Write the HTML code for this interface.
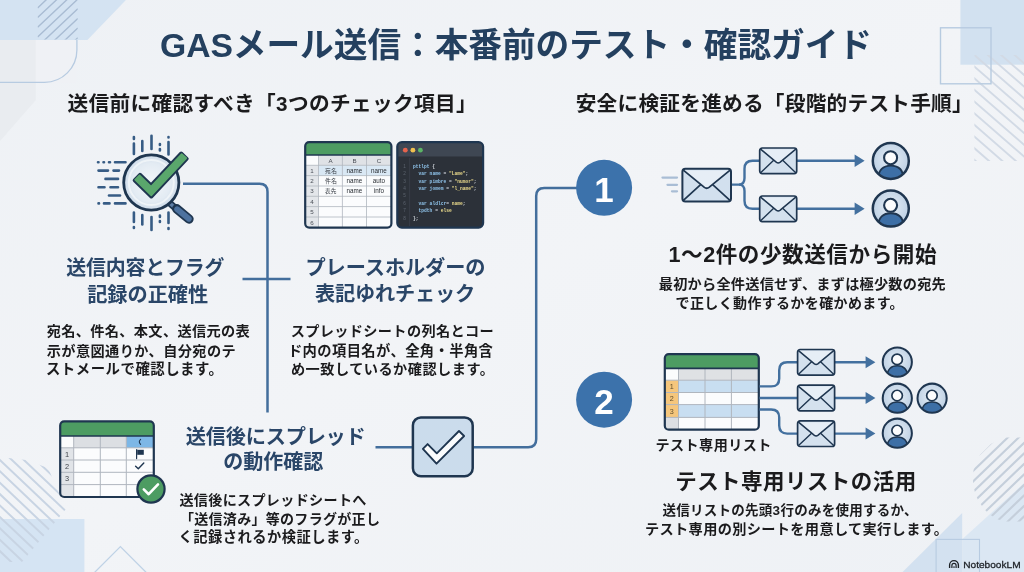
<!DOCTYPE html>
<html lang="ja">
<head>
<meta charset="utf-8">
<title>GASメール送信：本番前のテスト・確認ガイド</title>
<style>
html,body{margin:0;padding:0;}
body{width:1024px;height:572px;overflow:hidden;position:relative;background:#f0f2f6;font-family:"Liberation Sans","Noto Sans CJK JP",sans-serif;}
svg{position:absolute;left:0;top:0;display:block;filter:blur(0.5px);}
svg text{font-family:"Liberation Sans","Noto Sans CJK JP",sans-serif;}
svg text.mono{font-family:"Liberation Mono",monospace;font-weight:bold;white-space:pre;}
svg .b{font-weight:bold;}
</style>
</head>
<body>
<svg width="1024" height="572" viewBox="0 0 1024 572">
<defs>
  <linearGradient id="bgG" x1="0" y1="0" x2="1" y2="1">
    <stop offset="0" stop-color="#eef1f5"/><stop offset="0.5" stop-color="#f2f4f7"/><stop offset="1" stop-color="#eef1f5"/>
  </linearGradient>
  <radialGradient id="lensG" cx="0.5" cy="0.5" r="0.5">
    <stop offset="0" stop-color="#f4f7fa"/><stop offset="0.7" stop-color="#e3ebf3"/><stop offset="1" stop-color="#cfdcea"/>
  </radialGradient>
  <radialGradient id="persG" cx="0.5" cy="0.45" r="0.55">
    <stop offset="0" stop-color="#e6eef6"/><stop offset="1" stop-color="#bccfe3"/>
  </radialGradient>
  <clipPath id="cpTL"><rect x="37.6" y="0" width="40.2" height="39.4"/></clipPath>
  <clipPath id="cpTR"><rect x="974.4" y="55" width="50" height="106"/></clipPath>
  <clipPath id="cpBL"><polygon points="0,457 26,460 48,468 66,509 22,562 0,562"/></clipPath>
  <clipPath id="cpBR"><polygon points="991,444 980,455 973.5,470 973,483 975,493 978,500 982,506 986,511 992,516 998,519.5 1007,521.5 1024,521.5 1024,437.5 1003,437.5"/></clipPath>
  <!-- envelope symbol, 48x33 nominal, origin at top-left -->
  <g id="envL">
    <rect x="0" y="0" width="48.6" height="32.7" rx="3" fill="#d2e0ee" stroke="#1f3650" stroke-width="2"/>
    <path d="M1.5 31 L18.5 15.5 M47 31 L30 15.5" fill="none" stroke="#1f3650" stroke-width="1.7" stroke-linecap="round"/>
    <path d="M1.5 1.8 L22 18.6 Q24.3 20.3 26.6 18.6 L47.1 1.8" fill="#e6eef6" stroke="#1f3650" stroke-width="1.8" stroke-linejoin="round" stroke-linecap="round"/>
  </g>
  <g id="envS">
    <rect x="0" y="0" width="37" height="25.6" rx="2.5" fill="#d4e1ee" stroke="#1f3650" stroke-width="1.7"/>
    <path d="M1.2 24.4 L14 12.3 M35.8 24.4 L23 12.3" fill="none" stroke="#1f3650" stroke-width="1.4" stroke-linecap="round"/>
    <path d="M1.2 1.4 L16.8 14.4 Q18.5 15.7 20.2 14.4 L35.8 1.4" fill="#e6eef6" stroke="#1f3650" stroke-width="1.5" stroke-linejoin="round" stroke-linecap="round"/>
  </g>
  <!-- person icon r=19 centered at 0,0 -->
  <g id="persL">
    <clipPath id="cpP"><circle cx="0" cy="0" r="17.4"/></clipPath>
    <circle cx="0" cy="0" r="18" fill="url(#persG)"/>
    <path d="M-12.8 19 C-12.8 8.4 -7.2 4.6 0 4.6 C7.2 4.6 12.8 8.4 12.8 19 Z" fill="#3d6fa6" stroke="#1f3650" stroke-width="1.9" clip-path="url(#cpP)"/>
    <circle cx="-0.2" cy="-3.3" r="6.5" fill="#fbfcfd" stroke="#1f3650" stroke-width="2.1"/>
    <circle cx="0" cy="0" r="18" fill="none" stroke="#1f3650" stroke-width="2.5"/>
  </g>
</defs>

<!-- background -->
<rect width="1024" height="572" fill="url(#bgG)"/>

<!-- top-left decoration -->
<polygon points="0,39.9 35.8,39.9 35.8,100 0,141" fill="#e9ecf0"/>
<rect x="35.8" y="39.9" width="41" height="42.3" fill="#eff1f5"/>
<polygon points="0,0 125.9,0 87.4,39.9 0,39.9" fill="#d4e3f2"/>
<g clip-path="url(#cpTL)" stroke="#a9bcd3" stroke-width="1.4" fill="none">
  <path d="M37.6 7.9 L77.8 -29.9 M37.6 17.6 L77.8 -20.2 M37.6 27.2 L77.8 -10.5 M37.6 36.9 L77.8 -0.9 M37.6 46.6 L77.8 8.8 M37.6 56.2 L77.8 18.5 M37.6 65.9 L77.8 28.1 M37.6 75.6 L77.8 37.8"/>
</g>
<path d="M76.9 39.9 V50 A32.4 32.4 0 0 1 44.5 82.3 H0" fill="none" stroke="#b7cbe1" stroke-width="1.3"/>

<!-- top-right decoration -->
<rect x="960.4" y="0" width="64" height="64.7" fill="#d2e1f0"/>
<g clip-path="url(#cpTR)" stroke="#d2dae5" stroke-width="1.9" fill="none">
  <path d="M970.0 179.4 L1030.0 231.6 M970.0 167.8 L1030.0 220.0 M970.0 156.1 L1030.0 208.3 M970.0 144.4 L1030.0 196.6 M970.0 132.8 L1030.0 185.0 M970.0 121.1 L1030.0 173.3 M970.0 109.5 L1030.0 161.7 M970.0 97.8 L1030.0 150.0 M970.0 86.1 L1030.0 138.3 M970.0 74.5 L1030.0 126.7 M970.0 62.8 L1030.0 115.0 M970.0 51.2 L1030.0 103.4 M970.0 39.5 L1030.0 91.7 M970.0 27.9 L1030.0 80.1 M970.0 16.2 L1030.0 68.4 M970.0 4.5 L1030.0 56.7"/>
</g>
<rect x="940.5" y="27.8" width="50.5" height="56" fill="none" stroke="#b7cbe0" stroke-width="1.4"/>

<!-- bottom-left decoration -->
<rect x="0" y="519" width="84.4" height="53" fill="#d5e4f3"/>
<g clip-path="url(#cpBL)" stroke="#c8d4e3" stroke-width="2" fill="none">
  <path d="M-5.0 546.5 L90.0 636.7 M-5.0 535.1 L90.0 625.3 M-5.0 523.7 L90.0 613.9 M-5.0 512.3 L90.0 602.5 M-5.0 500.9 L90.0 591.1 M-5.0 489.5 L90.0 579.7 M-5.0 478.1 L90.0 568.3 M-5.0 466.7 L90.0 556.9 M-5.0 455.3 L90.0 545.5 M-5.0 443.9 L90.0 534.1 M-5.0 432.5 L90.0 522.7 M-5.0 421.1 L90.0 511.3 M-5.0 409.7 L90.0 499.9 M-5.0 398.3 L90.0 488.5"/>
</g>
<path d="M94 573 L120.4 546.6 L146.8 573" fill="none" stroke="#bfd2e6" stroke-width="1.3"/>

<!-- bottom-right decoration -->
<polygon points="962.2,539.2 1024,483.3 1024,572 962.2,572" fill="#dbe7f3"/>
<polygon points="962.2,513 962.2,572 902.6,572" fill="#d3e1f0"/>
<g clip-path="url(#cpBR)" stroke="#c5cfdb" stroke-width="2.1" stroke-linecap="round" fill="none">
  <path d="M1030 405.7 L960 472.9 M1030 416.2 L960 483.4 M1030 426.7 L960 493.9 M1030 437.2 L960 504.4 M1030 447.7 L960 514.9 M1030 458.2 L960 525.4 M1030 468.7 L960 535.9 M1030 479.2 L960 546.4 M1030 489.7 L960 556.9 M1030 500.2 L960 567.4 M1030 510.7 L960 577.9 M1030 521.2 L960 588.4"/>
</g>
<rect x="936.1" y="539.4" width="43.4" height="40" fill="none" stroke="#b7cbe1" stroke-width="1.1"/>

<!-- connector lines -->
<g fill="none" stroke="#436e9c" stroke-width="2.5" stroke-linecap="butt">
  <path d="M183 183.8 L259.5 183.8 Q267.5 183.8 267.5 191.8 L267.5 412.5"/>
  <path d="M242.5 279 L290.5 279"/>
  <path d="M375.5 447.2 L412 447.2"/>
  <path d="M473.5 447.2 L528.2 447.2 Q536.2 447.2 536.2 439.2 L536.2 196 Q536.2 188 544.2 188 L578 188"/>
</g>

<!-- magnifier icon -->
<g stroke="#375c85" stroke-width="2.6" stroke-linecap="round" fill="none">
  <!-- top ticks -->
  <path d="M133.9 137 L133.9 139 M133.9 143.5 L133.9 154"/>
  <path d="M142.3 141 L142.3 151"/>
  <path d="M151.5 135.8 L151.5 149"/>
  <path d="M159.9 144 L159.9 145 M159.9 149 L159.9 150.5"/>
  <path d="M168.5 137 L168.5 137.5 M168.5 142 L168.5 154.5"/>
  <!-- bottom ticks -->
  <path d="M133.9 212.5 L133.9 222 M133.9 227 L133.9 228"/>
  <path d="M142.3 215 L142.3 224.5"/>
  <path d="M151.5 217 L151.5 230"/>
  <path d="M159.9 215.5 L159.9 217 M159.9 221 L159.9 222"/>
  <path d="M168.5 212.5 L168.5 223 M168.5 228 L168.5 229"/>
  <!-- left ticks -->
  <path d="M98 162.2 L98.5 162.2 M103.5 162.2 L104 162.2 M109 162.2 L110 162.2 M115 162.2 L125.5 162.2"/>
  <path d="M98.5 170.6 L108 170.6 M113.5 170.6 L119 170.6"/>
  <path d="M105.5 178.9 L118 178.9"/>
  <path d="M98.5 187.3 L104.5 187.3 M110.5 187.3 L118 187.3"/>
  <path d="M109 195.5 L120 195.5"/>
  <path d="M98.5 203.4 L99 203.4 M104 203.4 L109.5 203.4 M115 203.4 L125.5 203.4"/>
</g>
<path d="M169.6 203 L176.4 209" stroke="#1f3650" stroke-width="7" stroke-linecap="butt" fill="none"/>
<path d="M169.6 203 L176.4 209" stroke="#5f7fa6" stroke-width="3.6" stroke-linecap="butt" fill="none"/>
<path d="M176.8 208.8 L189 219" stroke="#1f3650" stroke-width="9.4" stroke-linecap="round" fill="none"/>
<path d="M177.2 209.2 L188.8 218.8" stroke="#4d729f" stroke-width="5.8" stroke-linecap="round" fill="none"/>
<circle cx="151.3" cy="182.5" r="27.6" fill="url(#lensG)" stroke="#1f3650" stroke-width="2.8"/>
<circle cx="151.3" cy="182.5" r="22.5" fill="none" stroke="#f6f9fb" stroke-width="2" opacity="0.7"/>
<path d="M140.0 174.7 L151.1 185.4 L181.2 153.4 L186.8 158.8 L151.3 196.6 L134.6 180.3 Z" fill="#1f3650" stroke="#1f3650" stroke-width="3.8" stroke-linejoin="round"/>
<path d="M139.5 175.3 L151.1 186.6 L181.7 154.0 L186.3 158.2 L151.3 195.4 L135.1 179.7 Z" fill="#5aa76c" stroke="#5aa76c" stroke-width="1.6" stroke-linejoin="round"/>

<!-- spreadsheet icon (top middle) -->
<g>
  <rect x="305.2" y="142.1" width="86.2" height="85.5" rx="4" fill="#fbfcfd"/>
  <rect x="305.2" y="155" width="13.3" height="72.6" fill="#e3e6ea"/>
  <rect x="318.5" y="155" width="72.9" height="10.3" fill="#dfe2e6"/>
  <rect x="305.2" y="155" width="13.3" height="10.3" fill="#fbfcfd"/>
  <rect x="318.5" y="165.3" width="72.9" height="10.3" fill="#d9e8f4"/>
  <path d="M305.2 155 L305.2 146 Q305.2 142.1 309.2 142.1 L387.4 142.1 Q391.4 142.1 391.4 146 L391.4 155 Z" fill="#4d9c62"/>
  <g stroke="#b0b6be" stroke-width="0.8" fill="none">
    <path d="M305.2 165.3 H391.4 M305.2 175.6 H391.4 M305.2 186 H391.4 M305.2 196.3 H391.4 M305.2 206.6 H391.4 M305.2 217 H391.4"/>
    <path d="M318.5 155 V227.6 M342.4 155 V227.6 M366.5 155 V227.6"/>
  </g>
  <path d="M305.2 155 H391.4" stroke="#1f3650" stroke-width="1.6"/>
  <rect x="305.2" y="142.1" width="86.2" height="85.5" rx="4" fill="none" stroke="#1f3650" stroke-width="2.2"/>
  </g>

<!-- code editor icon -->
<g>
  <rect x="397.3" y="142.1" width="85.8" height="85.5" rx="4.5" fill="#2c3139"/>
  <path d="M397.3 156.4 L397.3 146.6 Q397.3 142.1 401.8 142.1 L478.6 142.1 Q483.1 142.1 483.1 146.6 L483.1 156.4 Z" fill="#3f4753"/>
  <path d="M409.6 158 V226" stroke="#3c424c" stroke-width="0.7"/>
  <rect x="397.3" y="142.1" width="85.8" height="85.5" rx="4.5" fill="none" stroke="#1f3650" stroke-width="2.2"/>
  <circle cx="405.3" cy="150.2" r="2.4" fill="#e5634d"/>
  <circle cx="412.9" cy="150.2" r="2.4" fill="#f0c04f"/>
  <circle cx="420.4" cy="150.2" r="2.4" fill="#5cb566"/>
  </g>

<!-- spreadsheet with check badge (bottom-left) -->
<g>
  <rect x="60.2" y="421.4" width="93.6" height="75.6" rx="4" fill="#fbfcfd"/>
  <rect x="60.2" y="436" width="13.5" height="61" fill="#e1e4e8"/>
  <rect x="73.7" y="436" width="52.6" height="11.8" fill="#dcdfe3"/>
  <rect x="60.2" y="436" width="13.5" height="11.8" fill="#fbfcfd"/>
  <rect x="126.3" y="436" width="27.5" height="11.8" fill="#7db7e6"/>
  <path d="M60.2 436 L60.2 425.4 Q60.2 421.4 64.2 421.4 L149.8 421.4 Q153.8 421.4 153.8 425.4 L153.8 436 Z" fill="#4d9c62"/>
  <g stroke="#b0b6be" stroke-width="1" fill="none">
    <path d="M60.2 447.8 H153.8 M60.2 460 H153.8 M60.2 472.3 H153.8 M60.2 484.6 H153.8"/>
    <path d="M73.7 436 V497 M100.3 436 V497 M126.3 436 V497"/>
  </g>
  <path d="M60.2 436 H153.8" stroke="#1f3650" stroke-width="1.6"/>
  <rect x="60.2" y="421.4" width="93.6" height="75.6" rx="4" fill="none" stroke="#1f3650" stroke-width="2.2"/>
    <!-- header mark, flag, check -->
  <path d="M140.6 439.4 Q138 441.8 140.6 444.4" fill="none" stroke="#1f3650" stroke-width="1.1" stroke-linecap="round"/>
  <path d="M136.6 449.6 V458.6" stroke="#1f3650" stroke-width="1.2" stroke-linecap="round"/>
  <path d="M137.2 449.8 H143.8 V454.8 H137.2 Z" fill="#1f3650"/>
  <path d="M135.6 466.2 L138.3 468.8 L143.8 463" fill="none" stroke="#1f3650" stroke-width="1.4" stroke-linecap="round" stroke-linejoin="round"/>
  <!-- badge -->
  <circle cx="151" cy="489" r="13.6" fill="#4d9c62" stroke="#1f3650" stroke-width="2.2"/>
  <path d="M143.8 489.4 L148.7 494.2 L158 484.4" fill="none" stroke="#ffffff" stroke-width="2.6" stroke-linecap="round" stroke-linejoin="round"/>
</g>

<!-- checkbox icon -->
<rect x="412.9" y="417.4" width="59.8" height="58.8" rx="8" fill="#cbdcec" stroke="#1f3650" stroke-width="2.5"/>
<path d="M422.9 448.8 L427.6 444.1 L436.8 453.3 L459 431 L464.1 436 L436.5 463.7 Z" fill="#fbfcfd" stroke="#1f3650" stroke-width="1.9" stroke-linejoin="round"/>

<!-- step circles -->
<circle cx="604.1" cy="187.8" r="28" fill="#3c72ab"/>
<circle cx="604.1" cy="399.7" r="28" fill="#3c72ab"/>

<!-- step 1 graphic -->
<g stroke="#a9bdd5" stroke-width="2.3" stroke-linecap="round" fill="none">
  <path d="M662.5 177.6 H677 M667.5 184.8 H677 M672 191.3 H677"/>
</g>
<g fill="none" stroke="#43709f" stroke-width="2.4">
  <path d="M731 184.6 L739 184.6 Q744.5 184.6 744.5 178 L744.5 168.8 Q744.5 160.8 752.5 160.8 L760 160.8"/>
  <path d="M739 184.6 Q744.5 184.6 744.5 191 L744.5 200.7 Q744.5 208.7 752.5 208.7 L760 208.7"/>
  <path d="M796.8 160.8 H856"/>
  <path d="M796.8 208.7 H856"/>
</g>
<path d="M854.6 154.6 L864.6 160.8 L854.6 167 Z" fill="#43709f"/>
<path d="M854.6 202.5 L864.6 208.7 L854.6 214.9 Z" fill="#43709f"/>
<use href="#envL" x="682.4" y="168.8"/>
<use href="#envS" x="759.7" y="148"/>
<use href="#envS" x="759.7" y="196"/>
<use href="#persL" x="890.8" y="161"/>
<use href="#persL" x="890.8" y="208.6"/>

<!-- step 2 graphic -->
<g>
  <rect x="664.8" y="354.1" width="94" height="75.6" rx="4" fill="#fbfcfd"/>
  <rect x="678.5" y="368.4" width="80.3" height="11.8" fill="#dfe1e4"/>
  <rect x="678.5" y="380.2" width="80.3" height="12.3" fill="#c8def1"/>
  <rect x="678.5" y="404.6" width="80.3" height="12.8" fill="#c8def1"/>
  <rect x="664.8" y="380.2" width="13.7" height="37.2" fill="#f5c67c"/>
  <rect x="664.8" y="417.4" width="13.7" height="12.3" fill="#dcdfe3"/>
  <path d="M664.8 368.4 L664.8 358.1 Q664.8 354.1 668.8 354.1 L754.8 354.1 Q758.8 354.1 758.8 358.1 L758.8 368.4 Z" fill="#4d9c62"/>
  <g stroke="#b0b6be" stroke-width="1" fill="none">
    <path d="M664.8 380.2 H758.8 M664.8 392.5 H758.8 M664.8 404.6 H758.8 M664.8 417.4 H758.8"/>
    <path d="M678.5 368.4 V429.7 M705 368.4 V429.7 M731.4 368.4 V429.7"/>
  </g>
  <path d="M664.8 368.4 H758.8" stroke="#1f3650" stroke-width="1.6"/>
  <rect x="664.8" y="354.1" width="94" height="75.6" rx="4" fill="none" stroke="#1f3650" stroke-width="2.2"/>
  </g>
<g fill="none" stroke="#43709f" stroke-width="2.4">
  <path d="M759.5 386.4 L771.2 386.4 Q779.2 386.4 779.2 378.4 L779.2 370.3 Q779.2 362.3 787.2 362.3 L798 362.3"/>
  <path d="M759.5 398 H798"/>
  <path d="M759.5 409.5 L771.2 409.5 Q779.2 409.5 779.2 417.5 L779.2 425.6 Q779.2 433.6 787.2 433.6 L798 433.6"/>
  <path d="M834.4 362.3 H867 M834.4 398 H867 M834.4 433.6 H867"/>
</g>
<path d="M865.6 356.3 L875.4 362.3 L865.6 368.3 Z M865.6 392 L875.4 398 L865.6 404 Z M865.6 427.6 L875.4 433.6 L865.6 439.6 Z" fill="#43709f"/>
<use href="#envS" x="797.6" y="349.5"/>
<use href="#envS" x="797.6" y="385.2"/>
<use href="#envS" x="797.6" y="420.9"/>
<g transform="translate(897.3 362.1) scale(0.81)"><use href="#persL"/></g>
<g transform="translate(897.3 398.2) scale(0.81)"><use href="#persL"/></g>
<g transform="translate(932.1 398.2) scale(0.81)"><use href="#persL"/></g>
<g transform="translate(897.3 433.2) scale(0.81)"><use href="#persL"/></g>

<!-- numeral 1 -->
<text x="604.1" y="201.5" font-size="35" class="b" fill="#ffffff" text-anchor="middle">1</text>
<!-- watermark (Latin text, Liberation Sans) -->
<g fill="none" stroke="#1d2126" stroke-linecap="butt">
  <path d="M949.6 567.9 V565 A4.4 4.4 0 0 1 958.4 565 V567.9" stroke-width="1.35"/>
  <path d="M951.9 567.9 V565.4 A2.1 2.1 0 0 1 956.1 565.4 V567.9" stroke-width="1.2"/>
  <path d="M954 567.9 V566.2" stroke-width="1.1"/>
</g>
<text transform="translate(963.2 567.7) scale(0.1045 0.1)" font-family="Liberation Sans, sans-serif" font-size="97" fill="#1d2126" stroke="#1d2126" stroke-width="2.8">NotebookLM</text>

<g id="iconlabels">
<g font-size="6.2" fill="#4a4f57">
<text x="328.43" y="162.6">A</text>
<text x="352.43" y="162.6">B</text>
<text x="376.76" y="162.6">C</text>
<text x="310.18" y="172.8">1</text>
<text x="310.18" y="183.1">2</text>
<text x="310.18" y="193.4">3</text>
<text x="310.18" y="203.8">4</text>
<text x="310.18" y="214.1">5</text>
<text x="310.18" y="224.5">6</text>
</g>
<g font-size="6.3" fill="#2a2e34">
<text x="346.62" y="172.6">name</text>
<text x="371.12" y="172.6">name</text>
<text x="346.62" y="182.9">name</text>
<text x="372.87" y="182.9">auto</text>
<text x="346.62" y="193.2">name</text>
<text x="373.92" y="193.2">info</text>
</g>
<g font-size="4.7" fill="#5d646f" font-family="Liberation Mono, monospace">
<text x="403.29" y="167.8">1</text>
<text x="403.29" y="175.2">2</text>
<text x="403.29" y="182.6">3</text>
<text x="403.29" y="190.0">4</text>
<text x="403.29" y="197.3">5</text>
<text x="403.29" y="204.7">6</text>
<text x="403.29" y="212.1">7</text>
<text x="403.29" y="219.5">8</text>
</g>
<g font-size="4.6">
<text class="mono" xml:space="preserve" x="413" y="167.8"><tspan fill="#8fc3ea">pttlpt </tspan><tspan fill="#d8dde3">{</tspan></text>
<text class="mono" xml:space="preserve" x="418.6" y="175.2"><tspan fill="#8fc3ea">var name </tspan><tspan fill="#d8dde3">= </tspan><tspan fill="#e9d98b">"Lame"</tspan><tspan fill="#d8dde3">;</tspan></text>
<text class="mono" xml:space="preserve" x="418.6" y="182.6"><tspan fill="#8fc3ea">var pimbre </tspan><tspan fill="#d8dde3">= </tspan><tspan fill="#e9d98b">"numor"</tspan><tspan fill="#d8dde3">;</tspan></text>
<text class="mono" xml:space="preserve" x="418.6" y="190.0"><tspan fill="#8fc3ea">var jomem </tspan><tspan fill="#d8dde3">= </tspan><tspan fill="#e9d98b">"l_name"</tspan><tspan fill="#d8dde3">;</tspan></text>
<text class="mono" xml:space="preserve" x="418.6" y="204.7"><tspan fill="#8fc3ea">var aldlcr</tspan><tspan fill="#d8dde3">= </tspan><tspan fill="#e9d98b">name</tspan><tspan fill="#d8dde3">;</tspan></text>
<text class="mono" xml:space="preserve" x="418.6" y="212.1"><tspan fill="#8fc3ea">tpdth </tspan><tspan fill="#d8dde3">= </tspan><tspan fill="#e9d98b">else</tspan></text>
<text class="mono" xml:space="preserve" x="413" y="219.5" fill="#d8dde3">};</text>
</g>
<g font-size="7.4" fill="#3f444b">
<text x="64.94" y="456.6">1</text>
<text x="64.94" y="468.8">2</text>
<text x="64.94" y="481.1">3</text>
</g>
<g font-size="7.2" fill="#5e4c2c">
<text x="669.7" y="389.0">1</text>
<text x="669.7" y="401.2">2</text>
<text x="669.7" y="413.6">3</text>
</g>
</g>
<g id="textlayer" class="b">
<text x="160" y="57.2" font-size="33.7" fill="#24405f" textLength="712">GASメール送信：本番前のテスト・確認ガイド</text>
<text x="67.6" y="111" font-size="20.7" fill="#1b1b1d" textLength="409">送信前に確認すべき「3つのチェック項目」</text>
<text x="575.7" y="110.8" font-size="20.7" fill="#1b1b1d" textLength="397">安全に検証を進める「段階的テスト手順」</text>
<text x="66.3" y="274.7" font-size="19.9" fill="#2a4668" textLength="158">送信内容とフラグ</text>
<text x="87.2" y="301.5" font-size="20.2" fill="#2a4668" textLength="121">記録の正確性</text>
<text x="46.7" y="336.4" font-size="14.2" fill="#1b1b1d" textLength="203">宛名、件名、本文、送信元の表</text>
<text x="46.7" y="355.5" font-size="14.2" fill="#1b1b1d" textLength="189">示が意図通りか、自分宛のテ</text>
<text x="45.9" y="373.9" font-size="14.4" fill="#1b1b1d" textLength="177">ストメールで確認します。</text>
<text x="305.5" y="274.8" font-size="20.2" fill="#2a4668" textLength="180">プレースホルダーの</text>
<text x="315.1" y="301.4" font-size="20.2" fill="#2a4668" textLength="160">表記ゆれチェック</text>
<text x="290.7" y="336.4" font-size="14.2" fill="#1b1b1d" textLength="203">スプレッドシートの列名とコー</text>
<text x="287.9" y="355.6" font-size="14.3" fill="#1b1b1d" textLength="205">ド内の項目名が、全角・半角含</text>
<text x="290.9" y="373.8" font-size="14.2" fill="#1b1b1d" textLength="203">め一致しているか確認します。</text>
<text x="185.8" y="443.8" font-size="20.2" fill="#2a4668" textLength="180">送信後にスプレッド</text>
<text x="223.2" y="469.2" font-size="20" fill="#2a4668" textLength="100">の動作確認</text>
<text x="179.4" y="504.5" font-size="14.1" fill="#1b1b1d" textLength="187">送信後にスプレッドシートへ</text>
<text x="179.9" y="523.7" font-size="14" fill="#1b1b1d" textLength="200">「送信済み」等のフラグが正し</text>
<text x="178.4" y="542.1" font-size="14.3" fill="#1b1b1d" textLength="190">く記録されるか検証します。</text>
<text x="668.5" y="262.2" font-size="21.6" fill="#1b1b1d" textLength="268">1〜2件の少数送信から開始</text>
<text x="658.8" y="289.1" font-size="14.2" fill="#1b1b1d" textLength="287">最初から全件送信せず、まずは極少数の宛先</text>
<text x="675.6" y="307.7" font-size="14" fill="#1b1b1d" textLength="228">で正しく動作するかを確かめます。</text>
<text x="655.4" y="450" font-size="14.1" fill="#1b1b1d" textLength="116">テスト専用リスト</text>
<text x="604.1" y="414.4" font-size="35" fill="#ffffff" text-anchor="middle">2</text>
<text x="675.2" y="488.7" font-size="21.5" fill="#1b1b1d" textLength="241">テスト専用リストの活用</text>
<text x="662.5" y="514.6" font-size="13.5" fill="#1b1b1d" textLength="255">送信リストの先頭3行のみを使用するか、</text>
<text x="645" y="533.9" font-size="14.2" fill="#1b1b1d" textLength="303">テスト専用の別シートを用意して実行します。</text>
<g font-weight="normal" fill="#3b4048">
<text x="325.05" y="172.74" font-size="5.9">宛名</text>
<text x="325.05" y="183.05" font-size="5.9">件名</text>
<text x="325.07" y="193.25" font-size="5.7">表先</text>
</g>
</g>
</svg>
</body>
</html>
